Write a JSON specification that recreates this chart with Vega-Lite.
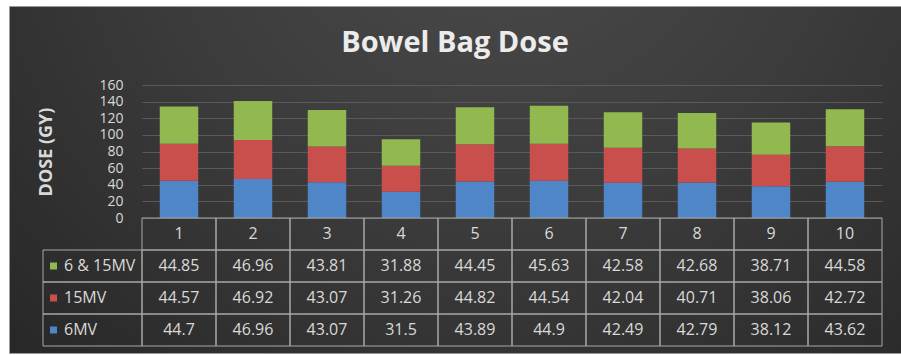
{
  "$schema": "https://vega.github.io/schema/vega-lite/v6.json",
  "width": 892,
  "height": 347,
  "autosize": {"type": "none"},
  "padding": {"left": 9, "top": 6, "right": 0, "bottom": 2},
  "background": "#ffffff",
  "title": {"text": "Bowel Bag Dose", "anchor": "middle", "frame": "group", "font": "Open Sans", "fontSize": 29, "fontWeight": "bold", "color": "#ececec", "baseline": "alphabetic", "offset": -75},
  "view": {"stroke": "#9a9a9a", "strokeWidth": 1, "fill": {"gradient": "radial", "x1": 0.55, "y1": 0.15, "r1": 0, "x2": 0.55, "y2": 0.15, "r2": 0.8, "stops": [{"offset": 0, "color": "#4c4c4c"}, {"offset": 0.5, "color": "#3b3b3b"}, {"offset": 1, "color": "#262626"}]}},
  "data": {"values": [
    {"patient": "1", "series": "6MV", "k": 1, "dose": 44.7},
    {"patient": "2", "series": "6MV", "k": 1, "dose": 46.96},
    {"patient": "3", "series": "6MV", "k": 1, "dose": 43.07},
    {"patient": "4", "series": "6MV", "k": 1, "dose": 31.5},
    {"patient": "5", "series": "6MV", "k": 1, "dose": 43.89},
    {"patient": "6", "series": "6MV", "k": 1, "dose": 44.9},
    {"patient": "7", "series": "6MV", "k": 1, "dose": 42.49},
    {"patient": "8", "series": "6MV", "k": 1, "dose": 42.79},
    {"patient": "9", "series": "6MV", "k": 1, "dose": 38.12},
    {"patient": "10", "series": "6MV", "k": 1, "dose": 43.62},
    {"patient": "1", "series": "15MV", "k": 2, "dose": 44.57},
    {"patient": "2", "series": "15MV", "k": 2, "dose": 46.92},
    {"patient": "3", "series": "15MV", "k": 2, "dose": 43.07},
    {"patient": "4", "series": "15MV", "k": 2, "dose": 31.26},
    {"patient": "5", "series": "15MV", "k": 2, "dose": 44.82},
    {"patient": "6", "series": "15MV", "k": 2, "dose": 44.54},
    {"patient": "7", "series": "15MV", "k": 2, "dose": 42.04},
    {"patient": "8", "series": "15MV", "k": 2, "dose": 40.71},
    {"patient": "9", "series": "15MV", "k": 2, "dose": 38.06},
    {"patient": "10", "series": "15MV", "k": 2, "dose": 42.72},
    {"patient": "1", "series": "6 & 15MV", "k": 3, "dose": 44.85},
    {"patient": "2", "series": "6 & 15MV", "k": 3, "dose": 46.96},
    {"patient": "3", "series": "6 & 15MV", "k": 3, "dose": 43.81},
    {"patient": "4", "series": "6 & 15MV", "k": 3, "dose": 31.88},
    {"patient": "5", "series": "6 & 15MV", "k": 3, "dose": 44.45},
    {"patient": "6", "series": "6 & 15MV", "k": 3, "dose": 45.63},
    {"patient": "7", "series": "6 & 15MV", "k": 3, "dose": 42.58},
    {"patient": "8", "series": "6 & 15MV", "k": 3, "dose": 42.68},
    {"patient": "9", "series": "6 & 15MV", "k": 3, "dose": 38.71},
    {"patient": "10", "series": "6 & 15MV", "k": 3, "dose": 44.58}
  ]},
  "resolve": {"scale": {"x": "independent", "y": "independent"}},
  "layer": [
    {
      "mark": {"type": "bar", "width": {"band": 0.52}},
      "encoding": {
        "x": {"field": "patient", "type": "nominal", "scale": {"domain": ["1","2","3","4","5","6","7","8","9","10"], "range": [133, 873], "paddingInner": 0, "paddingOuter": 0}, "axis": null},
        "y": {"field": "dose", "type": "quantitative", "stack": "zero", "scale": {"domain": [0, 160], "range": [212, 79], "nice": false},
          "axis": {"title": "DOSE (GY)", "orient": "left", "offset": -133, "values": [0,20,40,60,80,100,120,140,160], "ticks": false, "tickSize": 0, "domain": false, "grid": true, "gridColor": "#5a5a5a", "gridWidth": 1, "labelFont": "Open Sans", "labelFontSize": 14, "labelColor": "#d9d9d9", "labelPadding": 19, "labelOverlap": false, "titleFont": "Open Sans", "titleFontSize": 18, "titleFontWeight": "bold", "titleColor": "#d9d9d9", "titleX": -96, "titleBaseline": "middle", "titleAngle": -90}},
        "color": {"field": "series", "type": "nominal", "scale": {"domain": ["6 & 15MV", "15MV", "6MV"], "range": ["#92b94f", "#c84f4b", "#4f86c8"]}, "legend": null},
        "order": {"field": "k", "type": "quantitative"}
      }
    },
    {
      "mark": {"type": "rect", "fill": "transparent", "stroke": "#a8a8a8", "strokeWidth": 1},
      "encoding": {
        "x": {"field": "patient", "type": "nominal", "scale": {"domain": ["1","2","3","4","5","6","7","8","9","10"], "range": [133, 873], "paddingInner": 0, "paddingOuter": 0}, "axis": null},
        "y": {"field": "series", "type": "nominal", "scale": {"domain": ["hdr", "6 & 15MV", "15MV", "6MV"], "range": [212, 340], "paddingInner": 0, "paddingOuter": 0}, "axis": null}
      }
    },
    {
      "mark": {"type": "text", "font": "Open Sans", "fontSize": 16, "color": "#d9d9d9", "baseline": "middle", "align": "center"},
      "encoding": {
        "x": {"field": "patient", "type": "nominal", "scale": {"domain": ["1","2","3","4","5","6","7","8","9","10"], "range": [133, 873], "paddingInner": 0, "paddingOuter": 0}, "axis": null},
        "y": {"field": "series", "type": "nominal", "scale": {"domain": ["hdr", "6 & 15MV", "15MV", "6MV"], "range": [212, 340], "paddingInner": 0, "paddingOuter": 0}, "axis": null},
        "text": {"field": "dose", "type": "nominal"}
      }
    },
    {
      "transform": [{"filter": "datum.series == '6MV'"}],
      "mark": {"type": "rect", "fill": "transparent", "stroke": "#a8a8a8", "strokeWidth": 1},
      "encoding": {
        "x": {"field": "patient", "type": "nominal", "scale": {"domain": ["1","2","3","4","5","6","7","8","9","10"], "range": [133, 873], "paddingInner": 0, "paddingOuter": 0}, "axis": null},
        "y": {"datum": "hdr", "type": "nominal", "scale": {"domain": ["hdr", "6 & 15MV", "15MV", "6MV"], "range": [212, 340], "paddingInner": 0, "paddingOuter": 0}, "axis": null}
      }
    },
    {
      "transform": [{"filter": "datum.series == '6MV'"}],
      "mark": {"type": "text", "font": "Open Sans", "fontSize": 16, "color": "#d9d9d9", "baseline": "middle", "align": "center"},
      "encoding": {
        "x": {"field": "patient", "type": "nominal", "scale": {"domain": ["1","2","3","4","5","6","7","8","9","10"], "range": [133, 873], "paddingInner": 0, "paddingOuter": 0}, "axis": null},
        "y": {"datum": "hdr", "type": "nominal", "scale": {"domain": ["hdr", "6 & 15MV", "15MV", "6MV"], "range": [212, 340], "paddingInner": 0, "paddingOuter": 0}, "axis": null},
        "text": {"field": "patient", "type": "nominal"}
      }
    },
    {
      "transform": [{"filter": "datum.patient == '1'"}],
      "mark": {"type": "rect", "fill": "transparent", "stroke": "#a8a8a8", "strokeWidth": 1},
      "encoding": {
        "x": {"datum": "L", "type": "nominal", "scale": {"domain": ["L"], "range": [34, 133], "paddingInner": 0, "paddingOuter": 0}, "axis": null},
        "y": {"field": "series", "type": "nominal", "scale": {"domain": ["hdr", "6 & 15MV", "15MV", "6MV"], "range": [212, 340], "paddingInner": 0, "paddingOuter": 0}, "axis": null}
      }
    },
    {
      "transform": [{"filter": "datum.patient == '1'"}],
      "mark": {"type": "text", "font": "Open Sans", "fontSize": 16, "color": "#d9d9d9", "baseline": "middle", "align": "left", "dx": -28.5},
      "encoding": {
        "x": {"datum": "L", "type": "nominal", "scale": {"domain": ["L"], "range": [34, 133], "paddingInner": 0, "paddingOuter": 0}, "axis": null},
        "y": {"field": "series", "type": "nominal", "scale": {"domain": ["hdr", "6 & 15MV", "15MV", "6MV"], "range": [212, 340], "paddingInner": 0, "paddingOuter": 0}, "axis": null},
        "text": {"field": "series", "type": "nominal"}
      }
    },
    {
      "transform": [{"filter": "datum.patient == '1'"}],
      "mark": {"type": "square", "size": 49, "opacity": 1, "xOffset": -39},
      "encoding": {
        "x": {"datum": "L", "type": "nominal", "scale": {"domain": ["L"], "range": [34, 133], "paddingInner": 0, "paddingOuter": 0}, "axis": null},
        "y": {"field": "series", "type": "nominal", "scale": {"domain": ["hdr", "6 & 15MV", "15MV", "6MV"], "range": [212, 340], "paddingInner": 0, "paddingOuter": 0}, "axis": null},
        "color": {"field": "series", "type": "nominal", "legend": null}
      }
    }
  ]
}
